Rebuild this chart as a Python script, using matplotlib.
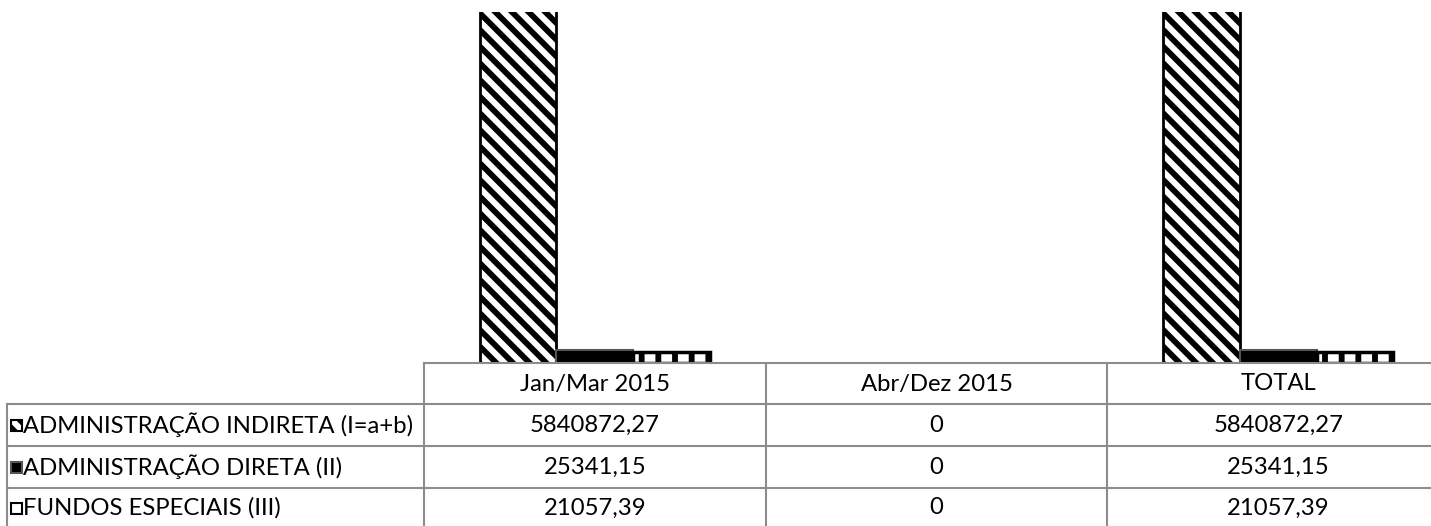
import matplotlib.pyplot as plt
from matplotlib.patches import Rectangle
from matplotlib.lines import Line2D
from matplotlib.transforms import blended_transform_factory
import numpy as np

categories = ['Jan/Mar 2015', 'Abr/Dez 2015', 'TOTAL']
series_names = ['ADMINISTRAÇÃO INDIRETA (I=a+b)', 'ADMINISTRAÇÃO DIRETA (II)', 'FUNDOS ESPECIAIS (III)']
indireta = [5840872.27, 0, 5840872.27]
direta = [25341.15, 0, 25341.15]
fundos = [21057.39, 0, 21057.39]

plt.rcParams['hatch.linewidth'] = 4.2
plt.rcParams['font.family'] = ['Lato', 'DejaVu Sans']

W, H = 1431, 526
fig = plt.figure(figsize=(W / 100, H / 100), dpi=100)

### axes runs past the right edge, like the cropped excel chart
ax = fig.add_axes([424 / W, 1 - 363 / H, 1025 / W, 351 / H])
ax.set_xlim(-0.5, 2.5)
ax.set_ylim(0, 700000)
ax.axis('off')

x = np.arange(len(categories))
w = 0.225

def nz(vals):
    # zero bars are not drawn at all (no flat outline)
    v = np.array(vals, dtype=float)
    return np.where(v == 0, np.nan, v)

ax.bar(x - w, nz(indireta), w, color='white', edgecolor='black', hatch='\\\\', linewidth=2)
ax.bar(x, nz(direta), w, color='black', edgecolor='#555555', linewidth=1.5)
ax.bar(x + w, nz(fundos), w, color='white', edgecolor='black', hatch='|', linewidth=2.5)

### data table under the chart
def fy(ypx):
    return 1 - ypx / H

def fx(xpx):
    return xpx / W

grid = '#8c8c8c'
lw = 1.5
bt = blended_transform_factory(ax.transData, fig.transFigure)

fig.add_artist(Line2D([fx(424), 1], [fy(363), fy(363)], color=grid, lw=lw, transform=fig.transFigure))
for ypx in [404, 446, 488]:
    fig.add_artist(Line2D([fx(7), 1], [fy(ypx), fy(ypx)], color=grid, lw=lw, transform=fig.transFigure))
fig.add_artist(Line2D([fx(7), fx(7)], [fy(404), 0], color=grid, lw=lw, transform=fig.transFigure))
fig.add_artist(Line2D([fx(424), fx(424)], [fy(363), 0], color=grid, lw=lw, transform=fig.transFigure))
for b in [0.5, 1.5]:
    fig.add_artist(Line2D([b, b], [fy(363), 0], color=grid, lw=lw, transform=bt))

fs = 17.2
for i, c in enumerate(categories):
    ax.text(x[i], fy(384), c, transform=bt, ha='center', va='center', fontsize=fs)

def fmt(v):
    if v == 0:
        return '0'
    return f'{v:.2f}'.replace('.', ',')

row_y = [425, 467, 508]
for r, vals in enumerate([indireta, direta, fundos]):
    for i, v in enumerate(vals):
        ax.text(x[i], fy(row_y[r]), fmt(v), transform=bt, ha='center', va='center', fontsize=fs)
    fig.text(fx(23), fy(row_y[r]), series_names[r], ha='left', va='center', fontsize=fs)

### small legend keys in the row labels
key_styles = [
    dict(facecolor='white', edgecolor='black', hatch='\\\\'),
    dict(facecolor='black', edgecolor='#555555'),
    dict(facecolor='white', edgecolor='black', hatch='|'),
]
for r, st in enumerate(key_styles):
    fig.add_artist(Rectangle((fx(11), fy(row_y[r] + 6)), 11 / W, 11 / H,
                             transform=fig.transFigure, linewidth=1.5, **st))

plt.savefig('out.png', dpi=100)
